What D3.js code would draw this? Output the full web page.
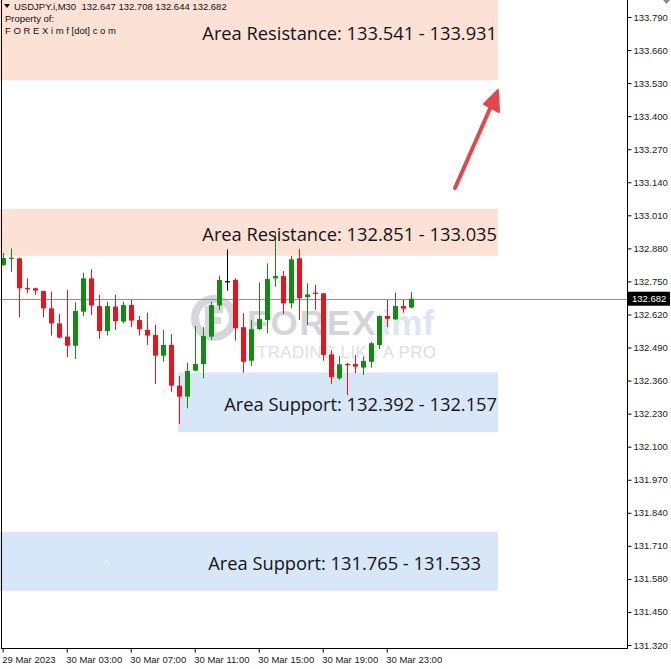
<!DOCTYPE html>
<html><head><meta charset="utf-8">
<script src="https://cdn.jsdelivr.net/npm/d3@7"></script>
<style>
html,body{margin:0;padding:0;background:#fff;}
svg{display:block;}
</style></head>
<body>
<svg id="chart" width="671" height="669"></svg>
<script>
// ---- DATA ----
const symbolLine = "USDJPY.i,M30  132.647 132.708 132.644 132.682";
const ownerLines = ["Property of:", "F O R E X i m f [dot] c o m"];
const timeLabels = ["29 Mar 2023","30 Mar 03:00","30 Mar 07:00","30 Mar 11:00","30 Mar 15:00","30 Mar 19:00","30 Mar 23:00"];
const timeLabelIndex = [0,8,16,24,32,40,48];
const priceTicks = ["131.320","131.450","131.580","131.710","131.840","131.970","132.100","132.230","132.360","132.490","132.620","132.750","132.880","133.010","133.140","133.270","133.400","133.530","133.660","133.790"];
const opens  = [132.815,132.841,132.841,132.725,132.723,132.712,132.644,132.585,132.533,132.497,132.631,132.762,132.653,132.555,132.651,132.592,132.657,132.598,132.559,132.539,132.458,132.500,132.340,132.297,132.399,132.425,132.533,132.655,132.751,132.756,132.570,132.438,132.562,132.598,132.762,132.771,132.664,132.841,132.688,132.706,132.703,132.463,132.369,132.425,132.425,132.411,132.434,132.500,132.614,132.601,132.653,132.647];
const highs  = [132.862,132.880,132.843,132.762,132.725,132.714,132.710,132.622,132.716,132.668,132.784,132.798,132.697,132.670,132.697,132.670,132.677,132.614,132.627,132.579,132.559,132.543,132.378,132.430,132.575,132.570,132.670,132.773,132.876,132.762,132.625,132.598,132.745,132.821,132.944,132.791,132.850,132.878,132.743,132.736,132.705,132.480,132.457,132.430,132.461,132.454,132.513,132.616,132.677,132.706,132.677,132.708];
const lows   = [132.811,132.788,132.609,132.703,132.697,132.609,132.537,132.526,132.452,132.445,132.614,132.618,132.524,132.537,132.559,132.585,132.570,132.537,132.500,132.347,132.434,132.316,132.189,132.251,132.397,132.369,132.520,132.638,132.714,132.517,132.391,132.417,132.560,132.546,132.729,132.622,132.644,132.598,132.579,132.638,132.438,132.347,132.362,132.303,132.389,132.382,132.411,132.484,132.570,132.598,132.627,132.644];
const closes = [132.842,132.843,132.723,132.719,132.714,132.644,132.585,132.529,132.497,132.634,132.762,132.655,132.555,132.653,132.594,132.657,132.596,132.562,132.537,132.458,132.500,132.340,132.297,132.398,132.425,132.535,132.657,132.756,132.751,132.566,132.434,132.562,132.602,132.760,132.771,132.664,132.837,132.684,132.699,132.701,132.461,132.373,132.424,132.421,132.415,132.437,132.507,132.614,132.603,132.653,132.643,132.682];
const zoneNames = ["Area Resistance","Area Resistance","Area Support","Area Support"];
const zoneLow   = [133.541,132.851,132.157,131.533];
const zoneHigh  = [133.931,133.035,132.392,131.765];
const zoneLabelA = ["133.541","132.851","132.392","131.765"];
const zoneLabelB = ["133.931","133.035","132.157","131.533"];
const currentPrice = 132.682;

// ---- LAYOUT ----
const W = 671, H = 669;
const plotRight = 627, plotBottom = 648;
const svg = d3.select("#chart");
const y = d3.scaleLinear().domain([131.32, 133.79]).range([645, 17]);
const x = d3.scaleLinear().domain([0, 51]).range([2.7, 410.7]);
const candles = opens.map((o,i)=>({i, o, h:highs[i], l:lows[i], c:closes[i]}));

const fontAxis = "'Liberation Sans', Arial, sans-serif";
const zoneKinds = ["res","res","sup","sup"];
const zoneColor = {res:"#fce1d6", sup:"#d8e7f7"};
const zoneX0 = [0, 0, 178, 0];
const zoneX1 = 498;
const textEnd = [497, 497, 497, 481];

svg.append("rect").attr("width",W).attr("height",H).attr("fill","#fff");

svg.append("defs").append("clipPath").attr("id","plotclip")
  .append("rect").attr("x",0).attr("y",0).attr("width",plotRight).attr("height",plotBottom);

const plot = svg.append("g").attr("clip-path","url(#plotclip)");

// zones
zoneLow.forEach((lo,k)=>{
  plot.append("rect")
    .attr("x", zoneX0[k]).attr("width", zoneX1 - zoneX0[k])
    .attr("y", y(zoneHigh[k])).attr("height", y(lo) - y(zoneHigh[k]))
    .attr("fill", zoneColor[zoneKinds[k]]);
});
// small anchor dots of the lower support object
[[498, y(zoneHigh[3])],[498, y(zoneLow[3])],[107, (y(zoneHigh[3])+y(zoneLow[3]))/2]].forEach(p=>{
  plot.append("circle").attr("cx",p[0]).attr("cy",p[1]).attr("r",1.6).attr("fill","#eef3fa");
});

// watermark
const wm = plot.append("g").attr("opacity",0.85);
wm.append("circle").attr("cx",214).attr("cy",318).attr("r",19)
  .attr("fill","none").attr("stroke","#cfd0d6").attr("stroke-width",8);
wm.append("path").attr("d","M205,306 h18 v7 h-11 v4 h9 v7 h-9 v10 h-7 z").attr("fill","#cfd0d6");
const wt = wm.append("text").attr("x",247).attr("y",335)
  .attr("font-family","'Liberation Sans', Arial, sans-serif").attr("font-weight","bold")
  .attr("font-size",35).attr("letter-spacing",2);
wt.append("tspan").attr("fill","#cdced4").text("FOREX");
wt.append("tspan").attr("fill","#d6e3ef").attr("letter-spacing",0).attr("dx",4).text("imf");
wm.append("text").attr("x",257).attr("y",358)
  .attr("font-family","'Liberation Sans', Arial, sans-serif").attr("font-size",17)
  .attr("letter-spacing",0.3).attr("fill","#d9d9de").text("TRADING LIKE A PRO");

// current price line
plot.append("line").attr("x1",0).attr("x2",plotRight)
  .attr("y1",Math.round(y(currentPrice))+0.5).attr("y2",Math.round(y(currentPrice))+0.5)
  .attr("stroke","#8e9196").attr("stroke-width",1);

// candles
const up = "#148a14", down = "#e8131b";
const colorOf = d => d.c > d.o ? up : (d.c < d.o ? down : "#000");
const cg = plot.append("g");
cg.selectAll("line.wick").data(candles).join("line")
  .attr("class","wick")
  .attr("x1",d=>Math.round(x(d.i))+0.5).attr("x2",d=>Math.round(x(d.i))+0.5)
  .attr("y1",d=>y(d.h)).attr("y2",d=>y(d.l))
  .attr("stroke",colorOf).attr("stroke-width",1);
cg.selectAll("rect.body").data(candles).join("rect")
  .attr("class","body")
  .attr("x",d=>Math.round(x(d.i))-2).attr("width",5)
  .attr("y",d=>y(Math.max(d.o,d.c)))
  .attr("height",d=>Math.max(1.2, Math.abs(y(d.o)-y(d.c))))
  .attr("fill",colorOf);

// zone labels
zoneLow.forEach((lo,k)=>{
  plot.append("text")
    .attr("x", textEnd[k]).attr("y", (y(zoneHigh[k])+y(lo))/2 + 1.5)
    .attr("text-anchor","end").attr("dominant-baseline","central")
    .attr("font-family","'Open Sans', 'Noto Sans', sans-serif")
    .attr("font-size",18.3).attr("fill","#141414")
    .text(`${zoneNames[k]}: ${zoneLabelA[k]} - ${zoneLabelB[k]}`);
});

// arrow
const arr = svg.append("g");
arr.append("line").attr("x1",455).attr("y1",188).attr("x2",492).attr("y2",104)
  .attr("stroke","#e2474d").attr("stroke-width",4).attr("stroke-linecap","round");
arr.append("path").attr("d","M498,90 L499,112 L484,104 Z")
  .attr("fill","#e2474d").attr("stroke","#e2474d").attr("stroke-width",2).attr("stroke-linejoin","round");

// frame
svg.append("line").attr("x1",1.5).attr("x2",1.5).attr("y1",0).attr("y2",plotBottom).attr("stroke","#000");
svg.append("line").attr("x1",plotRight+0.5).attr("x2",plotRight+0.5).attr("y1",0).attr("y2",plotBottom+0.5).attr("stroke","#000");
svg.append("line").attr("x1",1).attr("x2",plotRight+1).attr("y1",plotBottom+0.5).attr("y2",plotBottom+0.5).attr("stroke","#000");

// right axis
const yAxis = d3.axisRight(y)
  .tickValues(priceTicks.map(Number))
  .tickFormat((d,i)=>priceTicks[i])
  .tickSize(4).tickPadding(2);
const ya = svg.append("g").attr("transform",`translate(${plotRight+0.5},0)`).call(yAxis);
ya.select(".domain").remove();
ya.selectAll("line").attr("stroke","#000");
ya.selectAll("text").attr("font-family",fontAxis).attr("font-size",9.5).attr("fill","#1a1a1a");

// bottom axis
const xAxis = d3.axisBottom(x).tickValues(timeLabelIndex)
  .tickFormat((d,i)=>timeLabels[i]).tickSize(4).tickPadding(4);
const xa = svg.append("g").attr("transform",`translate(0,${plotBottom+0.5})`).call(xAxis);
xa.select(".domain").remove();
xa.selectAll("line").attr("stroke","#000");
xa.selectAll("text").attr("font-family",fontAxis).attr("font-size",9.5).attr("fill","#1a1a1a")
  .attr("text-anchor","start").attr("dx",-1);

// current price label
const cpY = y(currentPrice);
svg.append("rect").attr("x",plotRight+1).attr("y",cpY-7).attr("width",42).attr("height",14).attr("fill","#000");
svg.append("text").attr("x",plotRight+5).attr("y",cpY).attr("dominant-baseline","central")
  .attr("font-family",fontAxis).attr("font-size",9.5).attr("fill","#fff").text(currentPrice.toFixed(3));

// header
const hdr = svg.append("g").attr("font-family",fontAxis).attr("font-size",9.5).attr("fill","#111");
hdr.append("path").attr("d","M4,4 L10,4 L7,8 Z").attr("fill","#111");
hdr.append("text").attr("x",14).attr("y",9.5).attr("xml:space","preserve").text(symbolLine);
hdr.append("text").attr("x",5).attr("y",22).text(ownerLines[0]);
hdr.append("text").attr("x",5).attr("y",34).attr("xml:space","preserve").text(ownerLines[1]);

// top-right marker
svg.append("path").attr("d","M663,0 L670,0 L666.5,4 Z").attr("fill","#8c8c8c");
</script>
</body></html>
